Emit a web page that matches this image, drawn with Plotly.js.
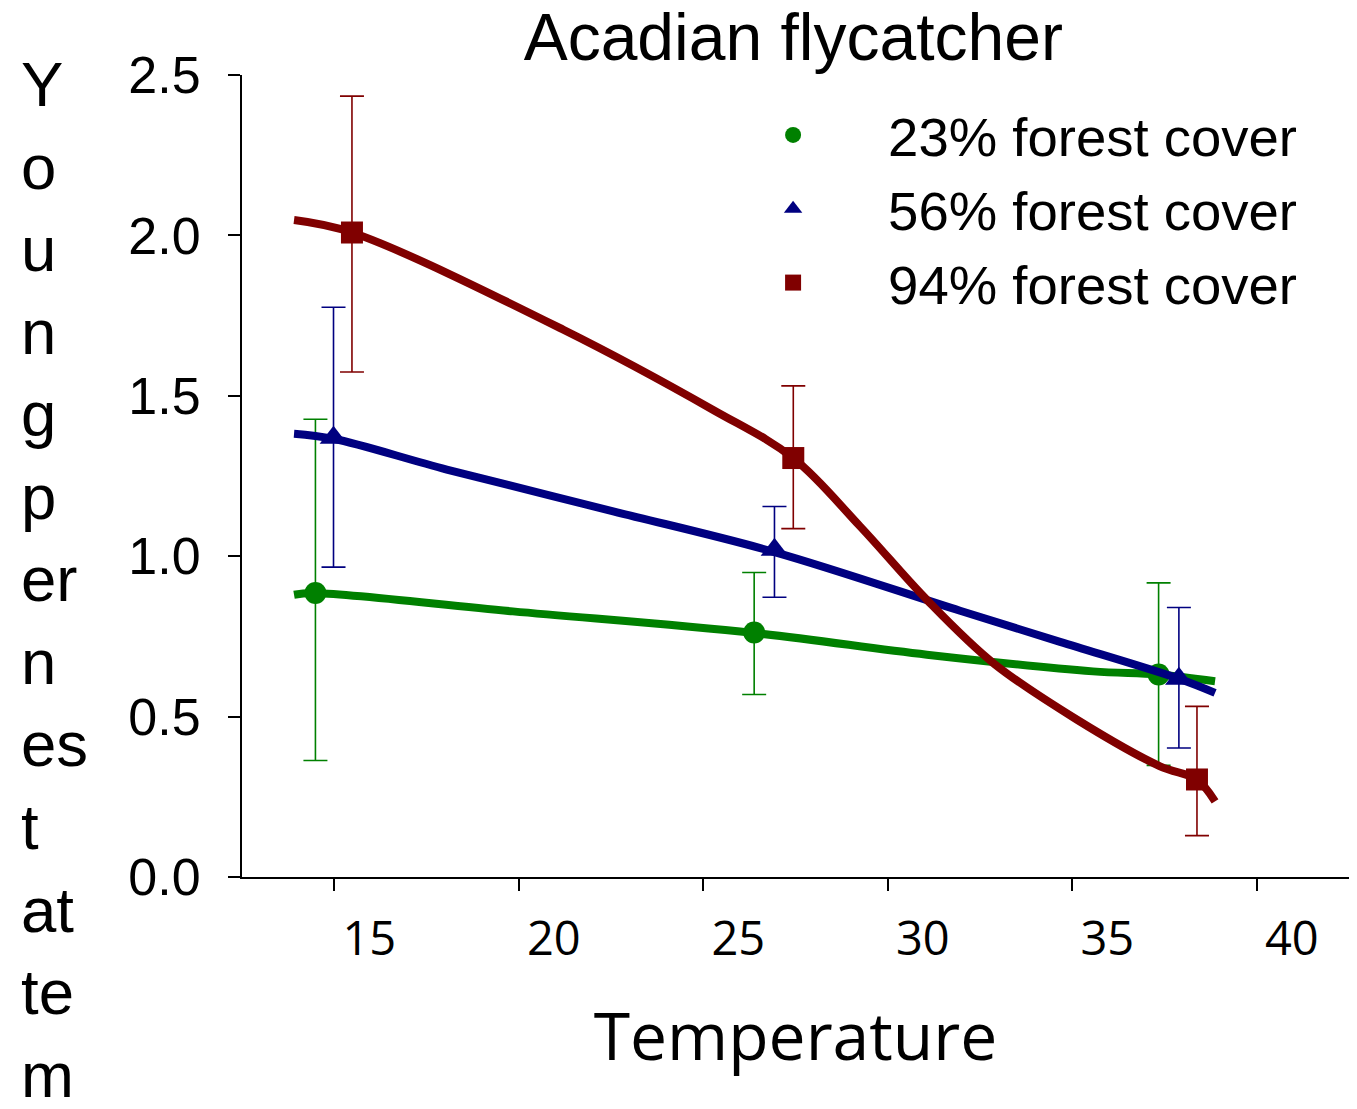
<!DOCTYPE html>
<html>
<head>
<meta charset="utf-8">
<script src="https://cdn.plot.ly/plotly-3.0.1.min.js"></script>
<style>html,body{margin:0;padding:0;background:#fff;}</style>
</head>
<body>
<div id="chart" style="width:1357px;height:1109px;"></div>
<script>
// ---- Data ----
const seriesNames = ['23% forest cover', '56% forest cover', '94% forest cover'];

// observed means and error-bar limits
const greenX = [14.49, 26.38, 37.34];
const greenY = [0.885, 0.762, 0.631];
const greenHi = [1.427, 0.949, 0.917];
const greenLo = [0.363, 0.569, 0.348];

const blueX = [14.98, 26.93, 37.89];
const blueY = [1.369, 1.020, 0.618];
const blueHi = [1.776, 1.155, 0.840];
const blueLo = [0.966, 0.872, 0.402];

const redX = [15.48, 27.44, 38.38];
const redY = [2.009, 1.306, 0.304];
const redHi = [2.434, 1.531, 0.532];
const redLo = [1.574, 1.086, 0.129];

// fitted curves
const greenCurveX = [13.91, 14.42, 19.84, 26.35, 31.06, 35.56, 37.32, 38.87];
const greenCurveY = [0.880, 0.885, 0.828, 0.761, 0.693, 0.641, 0.631, 0.610];

const blueCurveX = [13.91, 14.98, 18.05, 22.56, 26.93, 31.96, 34.67, 37.89, 38.87];
const blueCurveY = [1.382, 1.366, 1.270, 1.140, 1.013, 0.830, 0.733, 0.618, 0.574];

const redCurveX = [13.91, 15.48, 21.21, 25.27, 27.44, 29.25, 31.06, 32.86, 35.12, 37.38, 38.37, 38.87];
const redCurveY = [2.048, 2.009, 1.706, 1.456, 1.306, 1.093, 0.864, 0.667, 0.491, 0.345, 0.304, 0.236];

const xTickVals = [15, 20, 25, 30, 35, 40];
const yTickVals = [0, 0.5, 1.0, 1.5, 2.0, 2.5];
const yTickText = ['0.0', '0.5', '1.0', '1.5', '2.0', '2.5'];

const yTitleLines = ['Y', 'o', 'u', 'n', 'g', 'p', 'er', 'n', 'es', 't', 'at', 'te', 'm'];

// ---- Styles ----
const GREEN = '#008000', BLUE = '#000080', RED = '#800000';
const ARIAL = 'Liberation Sans, Arial, sans-serif';
const CAL = 'Open Sans, sans-serif';

function curve(x, y, color) {
  return {x: x, y: y, mode: 'lines', type: 'scatter', showlegend: false, hoverinfo: 'skip',
          line: {color: color, width: 8, shape: 'spline', smoothing: 1}};
}
function pts(x, y, hi, lo, color, symbol, size, name) {
  return {x: x, y: y, mode: 'markers', type: 'scatter', name: name,
          marker: {color: color, size: size, symbol: symbol},
          error_y: {type: 'data', symmetric: false,
                    array: hi.map((v, i) => v - y[i]),
                    arrayminus: lo.map((v, i) => y[i] - v),
                    color: color, thickness: 1.6, width: 12}};
}

const data = [
  curve(greenCurveX, greenCurveY, GREEN),
  pts(greenX, greenY, greenHi, greenLo, GREEN, 'circle', 22, seriesNames[0]),
  curve(blueCurveX, blueCurveY, BLUE),
  pts(blueX, blueY, blueHi, blueLo, BLUE, 'triangle-up', 24, seriesNames[1]),
  curve(redCurveX, redCurveY, RED),
  pts(redX, redY, redHi, redLo, RED, 'square', 22, seriesNames[2])
];

const layout = {
  width: 1357, height: 1109,
  margin: {l: 242, r: 8, t: 75, b: 231.5, pad: 0},
  paper_bgcolor: '#ffffff', plot_bgcolor: '#ffffff',
  font: {family: ARIAL, color: '#000000'},
  title: {text: 'Acadian flycatcher', font: {family: ARIAL, size: 66, color: '#000'},
          xref: 'paper', x: 0.498, xanchor: 'center', yref: 'container', y: 0.988, yanchor: 'top'},
  xaxis: {
    range: [12.5, 42.5], tickmode: 'array', tickvals: xTickVals,
    showline: true, linecolor: '#000', linewidth: 2, mirror: false,
    ticks: 'outside', ticklen: 12, tickwidth: 2, tickcolor: '#000',
    showgrid: false, zeroline: false,
    tickfont: {family: CAL, size: 47, color: '#000'},
    ticklabelshift: 35, ticklabelstandoff: 8,
    title: {text: 'Temperature', font: {family: CAL, size: 66, color: '#000'}, standoff: 45}
  },
  yaxis: {
    range: [0, 2.5], tickmode: 'array', tickvals: yTickVals, ticktext: yTickText,
    showline: true, linecolor: '#000', linewidth: 2, mirror: false,
    ticks: 'outside', ticklen: 12, tickwidth: 2, tickcolor: '#000',
    showgrid: false, zeroline: false,
    tickfont: {family: ARIAL, size: 52, color: '#000'},
    ticklabelstandoff: 17
  },
  showlegend: true,
  legend: {x: 0.412, y: 0.9776, xanchor: 'left', yanchor: 'top', xref: 'paper', yref: 'paper',
           bgcolor: 'rgba(0,0,0,0)', borderwidth: 0, itemwidth: 180,
           font: {family: ARIAL, size: 54.5, color: '#000'}, traceorder: 'normal'},
  annotations: [{
    text: yTitleLines.join('<br>'), showarrow: false,
    xref: 'paper', yref: 'paper', x: -0.2014, y: 0.371, xanchor: 'left', yanchor: 'middle', align: 'left',
    font: {family: ARIAL, size: 63.5, color: '#000'}
  }]
};

Plotly.newPlot('chart', data, layout, {displayModeBar: false, staticPlot: true});
</script>
</body>
</html>
